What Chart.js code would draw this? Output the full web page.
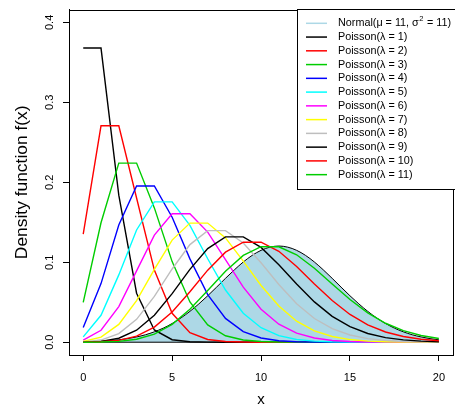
<!DOCTYPE html>
<html>
<head>
<meta charset="utf-8">
<script src="https://cdn.jsdelivr.net/npm/chart.js@4.4.1/dist/chart.umd.min.js"></script>
<style>
  body { margin: 0; background: #fff; }
  canvas { display: block; }
</style>
</head>
<body>
<canvas id="densityChart" width="455" height="409"></canvas>
<script>
// x positions of the Poisson probabilities
const xValues = [0, 1, 2, 3, 4, 5, 6, 7, 8, 9, 10, 11, 12, 13, 14, 15, 16, 17, 18, 19, 20];

// Poisson probabilities, lambda = 1..11
const pois1  = [0.3679, 0.3679, 0.1839, 0.0613, 0.0153, 0.0031, 0.0005, 0.0001, 0, 0, 0, 0, 0, 0, 0, 0, 0, 0, 0, 0, 0];
const pois2  = [0.1353, 0.2707, 0.2707, 0.1804, 0.0902, 0.0361, 0.0120, 0.0034, 0.0009, 0.0002, 0, 0, 0, 0, 0, 0, 0, 0, 0, 0, 0];
const pois3  = [0.0498, 0.1494, 0.2240, 0.2240, 0.1680, 0.1008, 0.0504, 0.0216, 0.0081, 0.0027, 0.0008, 0.0002, 0.0001, 0, 0, 0, 0, 0, 0, 0, 0];
const pois4  = [0.0183, 0.0733, 0.1465, 0.1954, 0.1954, 0.1563, 0.1042, 0.0595, 0.0298, 0.0132, 0.0053, 0.0019, 0.0006, 0.0002, 0.0001, 0, 0, 0, 0, 0, 0];
const pois5  = [0.0067, 0.0337, 0.0842, 0.1404, 0.1755, 0.1755, 0.1462, 0.1044, 0.0653, 0.0363, 0.0181, 0.0082, 0.0034, 0.0013, 0.0005, 0.0002, 0.0001, 0, 0, 0, 0];
const pois6  = [0.0025, 0.0149, 0.0446, 0.0892, 0.1339, 0.1606, 0.1606, 0.1377, 0.1033, 0.0688, 0.0413, 0.0225, 0.0113, 0.0052, 0.0022, 0.0009, 0.0003, 0.0001, 0, 0, 0];
const pois7  = [0.0009, 0.0064, 0.0223, 0.0521, 0.0912, 0.1277, 0.1490, 0.1490, 0.1304, 0.1014, 0.0710, 0.0452, 0.0263, 0.0142, 0.0071, 0.0033, 0.0014, 0.0006, 0.0002, 0.0001, 0];
const pois8  = [0.0003, 0.0027, 0.0107, 0.0286, 0.0573, 0.0916, 0.1221, 0.1396, 0.1396, 0.1241, 0.0993, 0.0722, 0.0481, 0.0296, 0.0169, 0.0090, 0.0045, 0.0021, 0.0009, 0.0004, 0.0002];
const pois9  = [0.0001, 0.0011, 0.0050, 0.0150, 0.0337, 0.0607, 0.0911, 0.1171, 0.1318, 0.1318, 0.1186, 0.0970, 0.0728, 0.0504, 0.0324, 0.0194, 0.0109, 0.0058, 0.0029, 0.0014, 0.0006];
const pois10 = [0, 0.0005, 0.0023, 0.0076, 0.0189, 0.0378, 0.0631, 0.0901, 0.1126, 0.1251, 0.1251, 0.1137, 0.0948, 0.0729, 0.0521, 0.0347, 0.0217, 0.0128, 0.0071, 0.0037, 0.0019];
const pois11 = [0, 0.0002, 0.0010, 0.0037, 0.0102, 0.0224, 0.0411, 0.0646, 0.0888, 0.1085, 0.1194, 0.1194, 0.1094, 0.0926, 0.0728, 0.0534, 0.0367, 0.0237, 0.0145, 0.0084, 0.0046];

// normal curve (mu = 11, sigma^2 = 11), shaded area
const normalX = [0, 0.5, 1, 1.5, 2, 2.5, 3, 3.5, 4, 4.5, 5, 5.5, 6, 6.5, 7, 7.5, 8, 8.5, 9, 9.5, 10,
                 10.5, 11, 11.5, 12, 12.5, 13, 13.5, 14, 14.5, 15, 15.5, 16, 16.5, 17, 17.5, 18, 18.5, 19, 19.5, 20];
const normalY = [0.0005, 0.0008, 0.0013, 0.0020, 0.0030, 0.0045, 0.0066, 0.0093, 0.0130, 0.0176, 0.0234,
                 0.0304, 0.0386, 0.0479, 0.0581, 0.0689, 0.0799, 0.0905, 0.1003, 0.1086, 0.1149,
                 0.1189, 0.1203, 0.1189, 0.1149, 0.1086, 0.1003, 0.0905, 0.0799, 0.0689, 0.0581,
                 0.0479, 0.0386, 0.0304, 0.0234, 0.0176, 0.0130, 0.0093, 0.0066, 0.0045, 0.0030];

const xTicks = [0, 5, 10, 15, 20];
const yTicks = [0, 0.1, 0.2, 0.3, 0.4];

const poissonSeries = [pois1, pois2, pois3, pois4, pois5, pois6, pois7, pois8, pois9, pois10, pois11];
const poissonColors = ["#000000", "#FF0000", "#00CD00", "#0000FF", "#00FFFF", "#FF00FF",
                       "#FFFF00", "#BEBEBE", "#000000", "#FF0000", "#00CD00"];
const normalColor = "#ADD8E6";

const FONT = "'Liberation Sans', Arial, Helvetica, sans-serif";

// build datasets
const datasets = [];
datasets.push({
  label: "normal",
  data: normalX.map((x, i) => ({ x: x, y: normalY[i] })),
  borderColor: "#000000",
  borderWidth: 1,
  backgroundColor: normalColor,
  fill: "origin",
  cubicInterpolationMode: "monotone",
  pointRadius: 0,
  order: 30
});
datasets.push({
  label: "base",
  data: [{ x: 0, y: 0 }, { x: 20, y: 0 }],
  borderColor: "#000000",
  borderWidth: 1,
  pointRadius: 0,
  fill: false,
  order: 29
});
poissonSeries.forEach((vals, k) => {
  datasets.push({
    label: "Poisson " + (k + 1),
    data: xValues.map((x, i) => ({ x: x, y: vals[i] })),
    borderColor: poissonColors[k],
    borderWidth: 1.4,
    pointRadius: 0,
    fill: false,
    tension: 0,
    order: 20 - k
  });
});

// rotated y tick labels, box and legend like the R plot
const rStyle = {
  id: "rStyle",
  afterDraw(chart) {
    const c = chart.ctx;
    const a = chart.chartArea;
    const ys = chart.scales.y;

    c.save();
    c.strokeStyle = "#000";
    c.lineWidth = 1;
    c.strokeRect(Math.round(a.left) + 0.5, Math.round(a.top) + 0.5,
                 Math.round(a.right - a.left), Math.round(a.bottom - a.top));

    // y tick labels, vertical
    c.fillStyle = "#000";
    c.font = "11px " + FONT;
    c.textAlign = "center";
    c.textBaseline = "middle";
    yTicks.forEach(v => {
      const py = ys.getPixelForValue(v);
      c.save();
      c.translate(50, py);
      c.rotate(-Math.PI / 2);
      c.fillText(v.toFixed(1), 0, 0);
      c.restore();
    });

    // legend
    const lx = 297, ly = 9, lw = 170, lh = 180;
    c.fillStyle = "#fff";
    c.fillRect(lx, ly, lw, lh);
    c.strokeRect(lx + 0.5, ly + 0.5, lw, lh);
    const rowH = 13.76;
    const items = [{ color: normalColor, text: "normal" }];
    poissonColors.forEach((col, k) => items.push({ color: col, text: "Poisson(λ = " + (k + 1) + ")" }));
    c.textAlign = "left";
    c.textBaseline = "middle";
    items.forEach((it, i) => {
      const y = ly + 14.3 + i * rowH;
      c.strokeStyle = it.color;
      c.lineWidth = 1.5;
      c.beginPath();
      c.moveTo(306, y);
      c.lineTo(327, y);
      c.stroke();
      c.fillStyle = "#000";
      c.font = "10.8px " + FONT;
      if (it.text === "normal") {
        let x = 338;
        const t1 = "Normal(μ = 11, σ";
        c.fillText(t1, x, y);
        x += c.measureText(t1).width + 0.5;
        c.font = "7.5px " + FONT;
        c.fillText("2", x, y - 4);
        x += c.measureText("2").width + 0.5;
        c.font = "10.8px " + FONT;
        c.fillText(" = 11)", x, y);
      } else {
        c.fillText(it.text, 338, y);
      }
    });
    c.restore();
  }
};

const ctx = document.getElementById("densityChart").getContext("2d");
new Chart(ctx, {
  type: "line",
  data: { datasets: datasets },
  options: {
    responsive: false,
    animation: false,
    events: [],
    layout: { padding: { top: 9, right: 0, left: 0, bottom: 0 } },
    plugins: { legend: { display: false }, tooltip: { enabled: false } },
    scales: {
      x: {
        type: "linear",
        min: -0.8,
        max: 20.8,
        afterBuildTicks: s => { s.ticks = xTicks.map(v => ({ value: v })); },
        afterFit: s => { s.height = 54; },
        ticks: { color: "#000", font: { family: FONT, size: 11 }, padding: 10, maxRotation: 0 },
        grid: { drawOnChartArea: false, drawTicks: true, tickLength: 6, color: "#000" },
        border: { display: true, color: "#000" },
        title: { display: true, text: "x", color: "#000", font: { family: FONT, size: 15 }, padding: { top: 0, bottom: 0 } }
      },
      y: {
        type: "linear",
        min: -0.016,
        max: 0.416,
        afterBuildTicks: s => { s.ticks = yTicks.map(v => ({ value: v })); },
        afterFit: s => { s.width = 69; },
        ticks: { color: "rgba(0,0,0,0)", font: { family: FONT, size: 11 } },
        grid: { drawOnChartArea: false, drawTicks: true, tickLength: 6, color: "#000" },
        border: { display: true, color: "#000" },
        title: { display: true, text: "Density function f(x)", color: "#000", font: { family: FONT, size: 17.4 }, padding: { top: 12, bottom: 0 } }
      }
    }
  },
  plugins: [rStyle]
});
</script>
</body>
</html>
